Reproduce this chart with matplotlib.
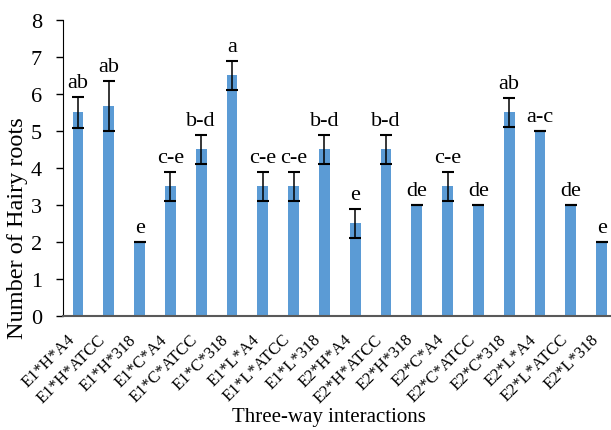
import matplotlib
matplotlib.use("Agg")
import matplotlib.pyplot as plt
import numpy as np

categories = ["E1*H*A4", "E1*H*ATCC", "E1*H*318", "E1*C*A4", "E1*C*ATCC", "E1*C*318",
              "E1*L*A4", "E1*L*ATCC", "E1*L*318", "E2*H*A4", "E2*H*ATCC", "E2*H*318",
              "E2*C*A4", "E2*C*ATCC", "E2*C*318", "E2*L*A4", "E2*L*ATCC", "E2*L*318"]
values = [5.5, 5.67, 2.0, 3.5, 4.5, 6.5, 3.5, 3.5, 4.5, 2.5, 4.5, 3.0, 3.5, 3.0, 5.5, 5.0, 3.0, 2.0]
errors = [0.43, 0.67, 0.0, 0.4, 0.4, 0.4, 0.4, 0.4, 0.4, 0.4, 0.4, 0.0, 0.4, 0.0, 0.4, 0.0, 0.0, 0.0]
letters = ["ab", "ab", "e", "c-e", "b-d", "a", "c-e", "c-e", "b-d", "e", "b-d", "de",
           "c-e", "de", "ab", "a-c", "de", "e"]
yticks = [0, 1, 2, 3, 4, 5, 6, 7, 8]

plt.rcParams['font.family'] = ['Liberation Serif', 'DejaVu Serif']

fig = plt.figure(figsize=(6.11, 4.31), dpi=100)
W, H = 611, 431
ax = fig.add_axes([62.6 / W, (H - 316.7) / H, (617 - 62.6) / W, (316.7 - 21) / H])

x = np.arange(len(categories))
ax.bar(x, values, width=0.35, color='#5B9BD5', zorder=2)
ax.errorbar(x, values, yerr=errors, fmt='none', ecolor='black', elinewidth=1.1,
            capsize=4.3, capthick=1.5, zorder=3)

for xi, v, e, lab in zip(x, values, errors, letters):
    ax.text(xi, v + e + 0.27, lab, ha='center', va='baseline', fontsize=16)

ax.set_xlim(-0.5, len(categories) - 0.5)
ax.set_ylim(0, 8)
ax.set_yticks(yticks)
ax.set_xticks(x)
ax.set_xticklabels(categories, rotation=45, ha='right', va='top',
                   rotation_mode='default', fontsize=12)
ax.tick_params(axis='y', labelsize=16, direction='out', length=5, width=1, pad=10)
ax.tick_params(axis='x', length=0, pad=11)
for s in ['top', 'right']:
    ax.spines[s].set_visible(False)
ax.spines['left'].set_color('black')
ax.spines['bottom'].set_color('#595959')
ax.spines['bottom'].set_linewidth(1.5)
fig.text(18 / W, 1 - 228 / H, "Number of Hairy roots", fontsize=17.5, rotation=90,
         ha='center', va='center')
fig.text(329 / W, 4 / H, "Three-way interactions", fontsize=15, ha='center', va='bottom')

fig.savefig("out.png", dpi=100)
